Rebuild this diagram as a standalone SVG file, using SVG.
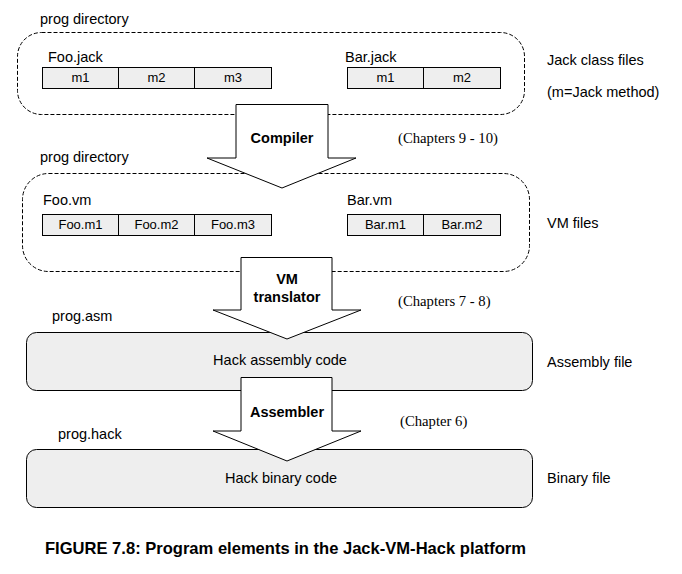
<svg xmlns="http://www.w3.org/2000/svg" width="682" height="574" viewBox="0 0 682 574">
<style>
text{font-family:"Liberation Sans",Arial,sans-serif;font-size:14.5px;fill:#000}
.s{font-size:13px}
.c{text-anchor:middle}
.b{font-weight:bold}
.ser{font-family:"Liberation Serif","Times New Roman",serif;font-size:14.7px}
.cap{font-size:17px}
.dash{fill:none;stroke:#000;stroke-width:1;stroke-dasharray:4 2}
.cell{fill:#eeeeee;stroke:#000;stroke-width:1}
.solid{fill:#eeeeee;stroke:#000;stroke-width:1}
.arrow{fill:#fff;stroke:#000;stroke-width:1;stroke-linejoin:miter}
</style>
<rect width="682" height="574" fill="#fff"/>

<g id="jack-dir">
<text x="40" y="24">prog directory</text>
<rect class="dash" x="17.5" y="32.5" width="507" height="82" rx="24" ry="24"/>
</g>
<g id="foo-jack">
<text x="48" y="62">Foo.jack</text>
<rect class="cell" x="42.5" y="67.5" width="76" height="21"/>
<rect class="cell" x="118.5" y="67.5" width="76" height="21"/>
<rect class="cell" x="194.5" y="67.5" width="77" height="21"/>
<text class="s c" x="80.5" y="82">m1</text>
<text class="s c" x="156.5" y="82">m2</text>
<text class="s c" x="233" y="82">m3</text>
</g>
<g id="bar-jack">
<text x="345" y="62">Bar.jack</text>
<rect class="cell" x="347.5" y="67.5" width="76" height="21"/>
<rect class="cell" x="423.5" y="67.5" width="77" height="21"/>
<text class="s c" x="385.5" y="82">m1</text>
<text class="s c" x="462" y="82">m2</text>
</g>
<g id="jack-label">
<text x="547" y="65">Jack class files</text>
<text x="547" y="97">(m=Jack method)</text>
</g>

<g id="vm-dir">
<text x="40" y="162">prog directory</text>
<rect class="dash" x="22.5" y="173.5" width="507" height="98" rx="26" ry="26"/>
</g>
<g id="foo-vm">
<text x="43" y="205">Foo.vm</text>
<rect class="cell" x="42.5" y="214.5" width="76" height="21"/>
<rect class="cell" x="118.5" y="214.5" width="76" height="21"/>
<rect class="cell" x="194.5" y="214.5" width="77" height="21"/>
<text class="s c" x="80.5" y="229">Foo.m1</text>
<text class="s c" x="156.5" y="229">Foo.m2</text>
<text class="s c" x="233" y="229">Foo.m3</text>
</g>
<g id="bar-vm">
<text x="347" y="205">Bar.vm</text>
<rect class="cell" x="347.5" y="214.5" width="76" height="21"/>
<rect class="cell" x="423.5" y="214.5" width="77" height="21"/>
<text class="s c" x="385.5" y="229">Bar.m1</text>
<text class="s c" x="462" y="229">Bar.m2</text>
</g>
<g id="vm-label">
<text x="547" y="228">VM files</text>
</g>

<g id="asm-file">
<text x="52" y="321">prog.asm</text>
<rect class="solid" x="26.5" y="332.5" width="506" height="58" rx="10" ry="10"/>
<text class="c" x="280" y="365">Hack assembly code</text>
<text x="547" y="367">Assembly file</text>
</g>

<g id="hack-file">
<text x="58" y="439">prog.hack</text>
<rect class="solid" x="26.5" y="449.5" width="506" height="58" rx="10" ry="10"/>
<text class="c" x="281" y="483">Hack binary code</text>
<text x="547" y="483">Binary file</text>
</g>

<g id="connectors">
<g id="compiler">
<polygon class="arrow" points="236,104.5 328,104.5 328,158 356,158 282,188 207,158 236,158"/>
<text class="b c" x="282" y="143">Compiler</text>
<text class="ser" x="398" y="143">(Chapters 9 - 10)</text>
</g>
<g id="vm-translator">
<polygon class="arrow" points="241,257.5 332,257.5 332,310 361,310 287,339 213,310 241,310"/>
<text class="b c" x="287" y="284">VM</text>
<text class="b c" x="287" y="302">translator</text>
<text class="ser" x="398" y="306">(Chapters 7 - 8)</text>
</g>
<g id="assembler">
<polygon class="arrow" points="241,377.5 332,377.5 332,431 361,431 287,461 213,431 241,431"/>
<text class="b c" x="287" y="417">Assembler</text>
<text class="ser" x="400" y="426">(Chapter 6)</text>
</g>
</g>

<g id="caption">
<text class="b cap" x="45" y="554" textLength="481" lengthAdjust="spacingAndGlyphs">FIGURE 7.8: Program elements in the Jack-VM-Hack platform</text>
</g>
</svg>
